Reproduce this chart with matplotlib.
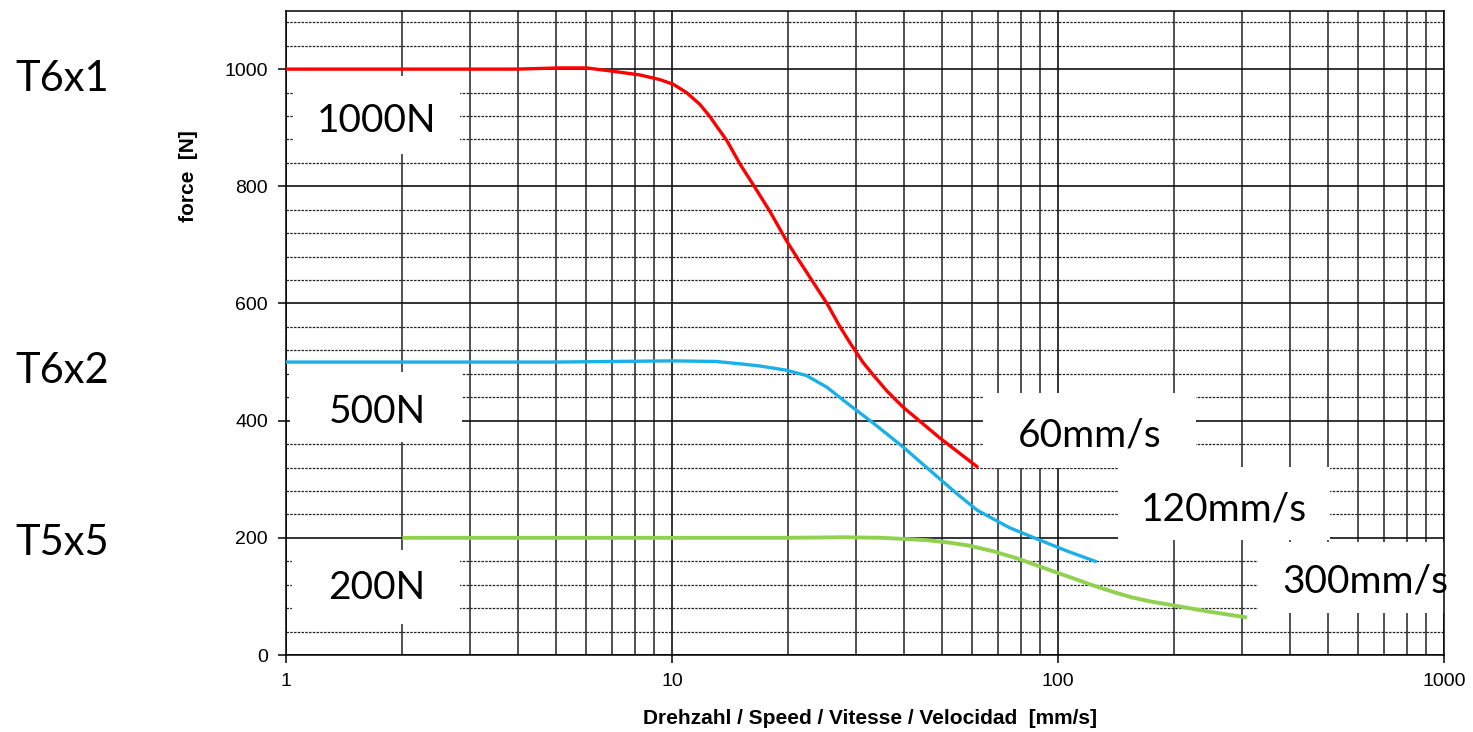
import matplotlib
matplotlib.use("Agg")
import matplotlib.pyplot as plt
import matplotlib.ticker as ticker
from matplotlib.patches import Rectangle

# T6x1 - 1000N / 60mm/s
red_speed = [1, 2, 4, 5.1, 6.0, 6.9, 8.26, 9.31, 10.08, 10.9, 11.8, 12.5, 13.9, 15.0, 16.4, 17.9,
             19.8, 21.2, 25.2, 27.2, 28.9, 31.2, 33.2, 36, 39.7, 49.5, 62.1]
red_force = [1000, 1000, 1000, 1002, 1002, 997, 990, 982, 974, 960, 940, 920, 877, 838, 798, 758,
             707, 676, 600, 561, 533, 500, 478, 451, 423, 370, 320]

# T6x2 - 500N / 120mm/s
blue_speed = [1, 5, 10, 13, 15.0, 17, 19.8, 22.3, 25.2, 28.4, 33.2, 39.7, 46.6, 55, 61.8, 75, 89.8, 105, 126]
blue_force = [500, 500, 502, 501, 497, 493, 486, 477, 457, 430, 396, 355, 315, 274, 247, 217, 196, 178, 159]

# T5x5 - 200N / 300mm/s
green_speed = [2, 10, 20, 28, 35, 40, 45.8, 52, 58.5, 68, 78.3, 95.2, 123, 140, 156, 175, 198, 246, 309]
green_force = [200, 200, 200, 201, 200, 198, 196, 192, 187, 177, 165, 145, 119, 107, 98, 91, 85, 74, 64]

W, H = 1473, 732
def fx(px): return px / W
def fy(py): return 1 - py / H

fig = plt.figure(figsize=(14.73, 7.32), dpi=100)
ax = fig.add_axes([fx(286), fy(655), fx(1444) - fx(286), fy(10.5) - fy(655)])

ax.set_xscale("log")
ax.set_xlim(1, 1000)
ax.set_ylim(0, 1100)
ax.yaxis.set_major_locator(ticker.FixedLocator([0, 200, 400, 600, 800, 1000]))
ax.yaxis.set_minor_locator(ticker.MultipleLocator(40))
ax.xaxis.set_major_locator(ticker.LogLocator(base=10))
ax.xaxis.set_minor_locator(ticker.LogLocator(base=10, subs=range(2, 10)))
ax.xaxis.set_major_formatter(ticker.FuncFormatter(lambda v, p: f"{v:g}"))
ax.xaxis.set_minor_formatter(ticker.NullFormatter())

ax.set_axisbelow(True)
ax.xaxis.grid(True, which="major", color="#111111", lw=1.2, ls="-")
ax.xaxis.grid(True, which="minor", color="#222222", lw=1.1, ls="-")
ax.yaxis.grid(True, which="major", color="#111111", lw=1.2, ls="-")
ax.yaxis.grid(True, which="minor", color="#222222", lw=0.9, ls=(0, (2, 1)))

ax.tick_params(which="major", length=6, width=1.1, direction="out", pad=7,
               labelsize=14, colors="black")
ax.tick_params(which="minor", length=0)
for lab in ax.get_xticklabels() + ax.get_yticklabels():
    lab.set_fontfamily("Liberation Sans")
for s in ax.spines.values():
    s.set_color("black")
    s.set_linewidth(1.1)

ax.plot(red_speed, red_force, color="#ff0000", lw=2.4, zorder=3, solid_capstyle="butt")
ax.plot(blue_speed, blue_force, color="#1cb0e8", lw=2.4, zorder=3, solid_capstyle="butt")
ax.plot(green_speed, green_force, color="#92d050", lw=2.8, zorder=3, solid_capstyle="butt")

# white label boxes (left, top, right, bottom in px) with text baseline
boxes = [
    ("1000N", (293, 76, 460, 154), (377, 132)),
    ("500N", (290, 372, 462, 442), (377, 423)),
    ("200N", (292, 550, 460, 624), (377, 599)),
    ("60mm/s", (983, 393, 1196, 468), (1090, 447)),
    ("120mm/s", (1118, 467, 1330, 540), (1224, 520)),
    ("300mm/s", (1258, 542, 1465, 613), (1365, 592)),
]
for txt, (l, t, r, b), (tx, ty) in boxes:
    ax.add_patch(Rectangle((fx(l), fy(b)), fx(r) - fx(l), fy(t) - fy(b),
                           transform=fig.transFigure, facecolor="white",
                           edgecolor="none", zorder=2, clip_on=False))
    ax.text(fx(tx), fy(ty), txt, transform=fig.transFigure, ha="center",
            va="baseline", fontsize=28, family="Lato", zorder=4)

for txt, by in [("T6x1", 91), ("T6x2", 383), ("T5x5", 555)]:
    fig.text(fx(15), fy(by), txt, ha="left", va="baseline", fontsize=30, family="Lato")

fig.text(fx(188), fy(176), "force  [N]", rotation=90, ha="center", va="center",
         fontsize=15, fontweight="bold", family="Liberation Sans")
fig.text(fx(870), fy(718), "Drehzahl / Speed / Vitesse / Velocidad  [mm/s]",
         ha="center", va="center", fontsize=15, fontweight="bold", family="Liberation Sans")

fig.savefig("out.png", dpi=100)
